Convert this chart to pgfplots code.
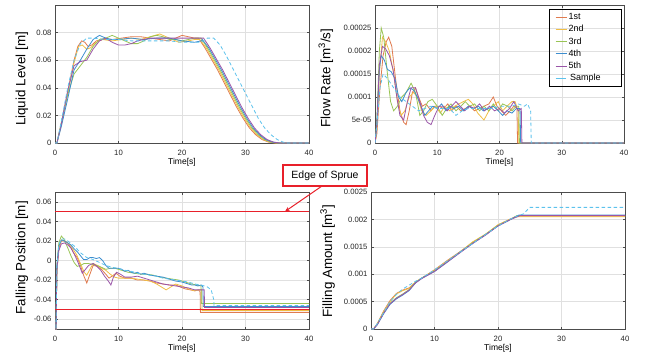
\documentclass[border=0pt]{standalone}
\usepackage{pgfplots}
\pgfplotsset{compat=1.18}
\usepackage{fontspec}
\setmainfont{Liberation Sans}
\usetikzlibrary{arrows.meta}

\definecolor{cA}{RGB}{224,123,79}
\definecolor{cB}{RGB}{240,190,69}
\definecolor{cC}{RGB}{153,196,85}
\definecolor{cD}{RGB}{61,142,207}
\definecolor{cE}{RGB}{154,85,168}
\definecolor{cS}{RGB}{92,194,236}
\definecolor{sprue}{RGB}{232,32,42}

\pgfplotsset{
 panel/.style={
  scale only axis, width=254pt, height=138pt,
  xmin=0, xmax=40, xtick={0,10,20,30,40},
  /pgf/number format/assume math mode=true,
  scaled y ticks=false,
  grid=major, major grid style={black!12, line width=0.5pt},
  axis line style={black!70, line width=0.7pt},
  tick style={black!70, line width=0.5pt},
  major tick length=2.5pt, tick align=inside,
  ticklabel style={font=\fontsize{7.7}{8}\selectfont, text=black!85},
  xticklabel style={yshift=-3.5pt},
  xlabel={Time[s]},
  xlabel style={font=\fontsize{8.5}{9}\selectfont, at={(rel axis cs:0.5,0)}, anchor=center, yshift=-19.5pt},
  ylabel style={font=\fontsize{13.4}{14}\selectfont, anchor=center},
 },
}

\begin{document}
\begin{tikzpicture}
\useasboundingbox (0,0) rectangle (652pt,360pt);

% ---------------- Liquid level ----------------
\begin{axis}[panel, at={(55pt,217pt)}, anchor=south west,
  ymin=0, ymax=0.1, ytick={0,0.02,0.04,0.06,0.08},
  yticklabels={0,0.02,0.04,0.06,0.08},
  ylabel={Liquid Level [m]},
  ylabel style={at={(axis description cs:-0.130,0.464)}}]
\addplot[draw=cA, line width=0.8pt] coordinates {(0,0)(0.3,0)(1,0.014)(2,0.037)(3,0.06)(3.6,0.07)(4.2,0.074)(4.7,0.073)(5.2,0.07)(5.8,0.071)(6.5,0.074)(7.5,0.075)(9,0.075)(10.5,0.076)(12,0.077)(13.5,0.077)(15,0.076)(16.5,0.075)(18,0.074)(19,0.076)(20,0.078)(21,0.077)(22,0.076)(22.6,0.076)(23.6,0.069)(24.6,0.061)(25.6,0.053)(26.6,0.044)(27.6,0.035)(28.6,0.026)(29.6,0.018)(30.6,0.011)(31.6,0.006)(32.6,0.0025)(33.6,0.0007)(34.6,0)(40,0)};
\addplot[draw=cB, line width=0.8pt] coordinates {(0,0)(0.3,0)(1,0.013)(2,0.036)(3,0.058)(3.7,0.07)(4.3,0.071)(5,0.068)(5.6,0.069)(6.5,0.073)(7.5,0.075)(9,0.074)(10.5,0.075)(12,0.076)(13.5,0.075)(15,0.077)(16.5,0.079)(18,0.076)(19.5,0.073)(21,0.074)(22,0.075)(22.8,0.075)(23.8,0.069)(24.8,0.061)(25.8,0.053)(26.8,0.044)(27.8,0.035)(28.8,0.026)(29.8,0.018)(30.8,0.011)(31.8,0.006)(32.8,0.0025)(33.8,0.0007)(34.8,0)(40,0)};
\addplot[draw=cC, line width=0.8pt] coordinates {(0,0)(0.3,0)(1,0.015)(2,0.035)(3,0.05)(4,0.056)(5,0.062)(6,0.07)(7,0.075)(8,0.076)(9,0.078)(10,0.076)(11,0.074)(12,0.072)(13,0.072)(14,0.074)(15,0.077)(16,0.078)(17,0.077)(18,0.075)(19,0.075)(20,0.074)(21,0.075)(22,0.076)(23,0.076)(24,0.069)(25,0.061)(26,0.053)(27,0.044)(28,0.035)(29,0.026)(30,0.018)(31,0.011)(32,0.006)(33,0.0025)(34,0.0007)(35,0)(40,0)};
\addplot[draw=cD, line width=0.8pt] coordinates {(0,0)(0.3,0)(1,0.012)(2,0.032)(3,0.053)(4,0.06)(5,0.068)(6,0.075)(7,0.078)(8,0.076)(9,0.075)(10,0.075)(12,0.076)(14,0.075)(16,0.076)(18,0.076)(20,0.074)(22,0.073)(23,0.074)(23.2,0.075)(24.2,0.069)(25.2,0.061)(26.2,0.053)(27.2,0.044)(28.2,0.035)(29.2,0.026)(30.2,0.018)(31.2,0.011)(32.2,0.006)(33.2,0.0025)(34.2,0.0007)(35.2,0)(40,0)};
\addplot[draw=cE, line width=0.8pt] coordinates {(0,0)(0.3,0)(1,0.014)(2,0.038)(3,0.056)(4,0.059)(5,0.06)(6,0.068)(7,0.074)(8,0.076)(9,0.073)(10,0.071)(11,0.071)(12,0.072)(13,0.074)(14,0.075)(15,0.076)(16,0.076)(18,0.076)(20,0.076)(22,0.076)(23.4,0.076)(24.4,0.069)(25.4,0.061)(26.4,0.053)(27.4,0.044)(28.4,0.035)(29.4,0.026)(30.4,0.018)(31.4,0.011)(32.4,0.006)(33.4,0.0025)(34.4,0.0007)(35.4,0)(40,0)};
\addplot[draw=cS, line width=0.8pt, dash pattern=on 3.5pt off 2.5pt] coordinates {(0,0)(0.3,0)(1,0.016)(2,0.04)(3,0.06)(4,0.072)(5,0.076)(6,0.076)(8,0.075)(10,0.075)(12,0.074)(14,0.074)(16,0.074)(18,0.074)(20,0.073)(22,0.073)(23,0.073)(24,0.076)(25,0.076)(26,0.071)(27,0.063)(28,0.054)(29,0.045)(30,0.036)(31,0.027)(32,0.018)(33,0.011)(34,0.006)(35,0.0025)(36,0.0005)(36.7,0)(40,0)};
\end{axis}

% ---------------- Flow rate ----------------
\begin{axis}[panel, at={(375pt,217pt)}, anchor=south west, width=249pt,
  ymin=0, ymax=0.0003, ytick={0,0.00005,0.0001,0.00015,0.0002,0.00025},
  yticklabels={0,5e-05,0.0001,0.00015,0.0002,0.00025},
  ylabel={Flow Rate [m\textsuperscript{3}/s]},
  ylabel style={at={(axis description cs:-0.197,0.471)}},
  legend cell align=left,
  legend image code/.code={\path (0pt,0pt) -- (11pt,0pt); \draw[#1, line width=0.8pt] (2.5pt,0pt) -- (10.5pt,0pt);},
  legend style={at={(rel axis cs:0.711,0.965)}, anchor=north west,
    draw=none, fill=none,
    font=\fontsize{9}{10}\selectfont,
    nodes={inner ysep=1.6pt, inner xsep=1.5pt, text height=7pt, text depth=2pt},
    inner xsep=3pt, inner ysep=1pt}]
\addplot[draw=cA, line width=0.8pt] coordinates {(0,0)(0.3,0.00002)(0.8,0.00012)(1.3,0.00019)(1.8,0.00022)(2.2,0.00023)(2.7,0.00021)(3.3,0.00014)(4,0.00007)(4.6,0.000045)(5,0.00004)(5.5,0.00007)(6,0.00011)(6.5,0.00012)(7,0.0001)(7.6,0.00008)(8.2,0.000085)(9,0.00007)(9.6,0.00008)(10.3,0.00008)(11,0.000075)(11.7,0.000085)(12.3,0.00007)(13,0.00008)(13.8,0.00007)(14.5,0.000075)(15.2,0.00008)(16,0.00007)(16.8,0.000075)(17.5,0.00008)(18.3,0.000085)(19,0.0001)(19.6,0.00008)(20.3,0.00007)(21,0.00006)(21.7,0.00007)(22.3,0.00008)(22.8,0.000075)(22.9,0)(40,0)};
\addlegendentry{1st}
\addplot[draw=cB, line width=0.8pt] coordinates {(0,0)(0.3,0.00003)(0.7,0.00015)(1.2,0.00023)(1.7,0.00022)(2.3,0.0002)(3,0.00015)(3.6,0.00009)(4.2,0.00006)(4.8,0.00007)(5.5,0.0001)(6.2,0.00011)(6.8,0.0001)(7.5,0.00007)(8.2,0.00006)(9,0.00007)(9.7,0.00008)(10.5,0.000065)(11.2,0.00008)(12,0.00007)(12.8,0.00008)(13.5,0.000085)(14.2,0.00009)(15,0.000095)(15.7,0.000085)(16.5,0.000065)(17.5,0.00005)(18.3,0.00007)(19,0.00008)(19.8,0.00009)(20.5,0.00007)(21.2,0.00008)(22,0.00009)(22.5,0.00009)(23,0.00007)(23.1,0)(40,0)};
\addlegendentry{2nd}
\addplot[draw=cC, line width=0.8pt] coordinates {(0,0)(0.3,0.00005)(0.7,0.0002)(1,0.00025)(1.4,0.00023)(2,0.00015)(2.5,0.00009)(3,0.00007)(3.6,0.00008)(4.3,0.0001)(5,0.00011)(5.8,0.00013)(6.5,0.00011)(7.2,0.00006)(7.8,0.00007)(8.5,0.00009)(9.2,0.000095)(10,0.00008)(10.8,0.00006)(11.5,0.000075)(12.2,0.000085)(13,0.00007)(13.8,0.00008)(14.5,0.00009)(15.2,0.00008)(16,0.000085)(16.8,0.00007)(17.5,0.00008)(18.3,0.00007)(19,0.000085)(19.8,0.00007)(20.5,0.000085)(21.3,0.00008)(22,0.00007)(22.7,0.00008)(23.1,0.00008)(23.2,0)(40,0)};
\addlegendentry{3rd}
\addplot[draw=cD, line width=0.8pt] coordinates {(0,0)(0.3,0.00004)(0.7,0.00016)(1,0.00019)(1.5,0.00018)(2,0.00016)(2.6,0.000155)(3.2,0.00014)(3.8,0.0001)(4.3,0.00009)(5,0.00011)(5.6,0.00012)(6.2,0.000115)(6.8,0.0001)(7.4,0.00008)(8,0.00006)(8.6,0.00007)(9.3,0.00008)(10,0.000075)(10.7,0.000085)(11.4,0.00007)(12,0.00008)(12.7,0.000075)(13.4,0.00008)(14.2,0.00007)(15,0.00008)(15.8,0.000075)(16.6,0.00008)(17.4,0.00007)(18.2,0.000075)(19,0.00008)(19.8,0.00007)(20.5,0.00006)(21.2,0.00007)(22,0.000065)(22.7,0.000075)(23.3,0.000075)(23.4,0)(40,0)};
\addlegendentry{4th}
\addplot[draw=cE, line width=0.8pt] coordinates {(0,0)(0.3,0.00004)(0.7,0.00017)(1.2,0.00021)(1.7,0.000205)(2.3,0.00019)(2.9,0.00016)(3.5,0.0001)(4,0.00006)(4.6,0.00005)(5.2,0.00009)(5.8,0.00012)(6.5,0.00012)(7.2,0.00009)(7.8,0.00006)(8.4,0.000045)(9,0.00004)(9.6,0.00006)(10.3,0.00008)(11,0.00008)(11.6,0.00007)(12.3,0.00008)(13,0.00009)(13.7,0.00008)(14.4,0.00007)(15.2,0.00008)(16,0.000075)(16.8,0.000085)(17.6,0.00007)(18.4,0.00008)(19.2,0.00007)(20,0.000075)(20.8,0.000065)(21.6,0.000075)(22.3,0.00009)(23,0.00007)(23.5,0.000075)(23.6,0)(40,0)};
\addlegendentry{5th}
\addplot[draw=cS, line width=0.8pt, dash pattern=on 3.5pt off 2.5pt] coordinates {(0,0)(0.3,0.00004)(0.8,0.00012)(1.3,0.00015)(2,0.00014)(3,0.00012)(4,0.0001)(5,0.00009)(6,0.00008)(7,0.00007)(8,0.000075)(9,0.00008)(10,0.000075)(11,0.000075)(12,0.000075)(13,0.00006)(14,0.00007)(15,0.000075)(16,0.000075)(17,0.000075)(18,0.000075)(19,0.000075)(20,0.00008)(21,0.00008)(22,0.00008)(23,0.000085)(24,0.00008)(24.5,0.000085)(25,0.00007)(25.1,0)(40,0)};
\addlegendentry{\,Sample}
\end{axis}

% ---------------- Falling position ----------------
\begin{axis}[panel, at={(55pt,31pt)}, anchor=south west, height=137pt,
  ymin=-0.07, ymax=0.07, ytick={-0.06,-0.04,-0.02,0,0.02,0.04,0.06},
  yticklabels={-0.06,-0.04,-0.02,0,0.02,0.04,0.06},
  ylabel={Falling Position [m]},
  ylabel style={at={(axis description cs:-0.130,0.52)}}]
\addplot[draw=cA, line width=0.8pt] coordinates {(0.15,-0.075)(0.3,-0.01)(0.6,0.012)(1,0.02)(1.5,0.02)(2,0.018)(2.5,0.013)(3,0.007)(3.5,0.003)(4,-0.005)(4.5,-0.015)(5,-0.023)(5.5,-0.014)(6,-0.005)(6.7,-0.006)(7.3,-0.009)(8,-0.014)(8.5,-0.018)(9,-0.016)(9.6,-0.013)(10.2,-0.016)(11,-0.018)(12,-0.018)(13,-0.02)(14,-0.02)(15,-0.021)(16,-0.023)(17,-0.024)(18,-0.025)(19,-0.025)(19.7,-0.027)(20.5,-0.029)(21.3,-0.03)(22,-0.031)(22.6,-0.03)(22.85,-0.032)(22.9,-0.053)(40,-0.053)};
\addplot[draw=cB, line width=0.8pt] coordinates {(0.15,-0.075)(0.3,-0.01)(0.6,0.014)(1,0.021)(1.6,0.02)(2.2,0.017)(2.8,0.012)(3.4,0.006)(4,-0.003)(4.6,-0.012)(5,-0.015)(5.5,-0.009)(6,-0.003)(6.7,-0.005)(7.4,-0.008)(8,-0.01)(8.7,-0.014)(9.4,-0.017)(10,-0.018)(11,-0.018)(12,-0.018)(13,-0.019)(14,-0.02)(15,-0.021)(16,-0.024)(17,-0.028)(17.5,-0.03)(18,-0.028)(19,-0.024)(20,-0.026)(21,-0.029)(22,-0.031)(22.7,-0.03)(23.1,-0.03)(23.15,-0.051)(40,-0.051)};
\addplot[draw=cC, line width=0.8pt] coordinates {(0.15,-0.075)(0.3,-0.005)(0.6,0.018)(1,0.025)(1.4,0.022)(2,0.013)(2.5,0.005)(3,-0.002)(3.5,-0.006)(4,-0.005)(4.6,-0.003)(5.2,-0.003)(6,-0.004)(7,-0.006)(8,-0.009)(8.7,-0.008)(9.5,-0.008)(10.5,-0.01)(11.5,-0.012)(12.5,-0.013)(13.5,-0.014)(14.5,-0.014)(15.5,-0.015)(16.5,-0.017)(17.5,-0.018)(18.5,-0.019)(19.5,-0.02)(20.5,-0.022)(21.5,-0.024)(22.3,-0.025)(23,-0.026)(23.05,-0.044)(40,-0.044)};
\addplot[draw=cD, line width=0.8pt] coordinates {(0.15,-0.075)(0.3,-0.005)(0.6,0.015)(1,0.021)(1.5,0.02)(2,0.018)(2.5,0.016)(3,0.012)(3.5,0.009)(4,0.005)(4.5,0.001)(5,0.001)(5.5,0.003)(6,0.003)(6.5,0.002)(7,0.003)(7.5,0)(8,-0.005)(8.5,-0.008)(9,-0.008)(9.5,-0.008)(10,-0.008)(10.5,-0.009)(11,-0.011)(11.5,-0.01)(12,-0.012)(12.5,-0.013)(13,-0.012)(13.5,-0.014)(14,-0.013)(15,-0.015)(16,-0.016)(17,-0.017)(18,-0.019)(19,-0.021)(20,-0.022)(21,-0.024)(21.5,-0.025)(22,-0.025)(22.5,-0.026)(23,-0.025)(23.3,-0.027)(23.35,-0.047)(40,-0.047)};
\addplot[draw=cE, line width=0.8pt] coordinates {(0.15,-0.075)(0.3,-0.01)(0.6,0.01)(1,0.017)(1.5,0.018)(2,0.016)(2.5,0.013)(3,0.007)(3.5,0)(4,-0.008)(4.3,-0.013)(4.8,-0.009)(5.3,-0.005)(6,-0.003)(6.6,-0.006)(7.2,-0.01)(7.8,-0.016)(8.4,-0.021)(8.8,-0.025)(9.2,-0.017)(9.7,-0.012)(10.3,-0.014)(11,-0.017)(12,-0.017)(13,-0.016)(14,-0.018)(15,-0.02)(16,-0.022)(17,-0.024)(18,-0.025)(19,-0.026)(20,-0.027)(21,-0.028)(22,-0.03)(23,-0.03)(23.5,-0.03)(23.55,-0.048)(40,-0.048)};
\addplot[draw=cS, line width=0.8pt, dash pattern=on 3.5pt off 2.5pt] coordinates {(0.15,-0.075)(0.3,-0.005)(0.6,0.016)(1,0.022)(1.5,0.022)(2,0.02)(3,0.015)(4,0.008)(5,0.003)(6,0.001)(7,-0.002)(8,-0.005)(9,-0.007)(10,-0.008)(11,-0.01)(12,-0.011)(13,-0.013)(14,-0.014)(15,-0.015)(16,-0.016)(17,-0.018)(18,-0.019)(19,-0.02)(20,-0.021)(21,-0.022)(22,-0.024)(23,-0.025)(24,-0.027)(24.6,-0.03)(25,-0.04)(25.05,-0.046)(40,-0.046)};
\addplot[draw=sprue, line width=1.3pt] coordinates {(0,0.05)(40,0.05)};
\addplot[draw=sprue, line width=1.3pt] coordinates {(0,-0.05)(40,-0.05)};
\coordinate (tip) at (axis cs:36.2,0.05);
\coordinate (ua) at (axis cs:0,0.05);
\coordinate (ub) at (axis cs:40,0.05);
\coordinate (la) at (axis cs:0,-0.05);
\coordinate (lb) at (axis cs:40,-0.05);
\end{axis}

% ---------------- Filling amount ----------------
\begin{axis}[panel, at={(371pt,31pt)}, anchor=south west, height=137pt,
  ymin=0, ymax=0.0025, ytick={0,0.0005,0.001,0.0015,0.002,0.0025},
  yticklabels={0,0.0005,0.001,0.0015,0.002,0.0025},
  ylabel={Filling Amount [m\textsuperscript{3}]},
  ylabel style={at={(axis description cs:-0.171,0.496)}}]
\addplot[draw=cA, line width=0.8pt] coordinates {(0,0)(0.4,0)(1,0.0001)(2,0.00033)(3,0.00052)(4,0.00065)(5,0.00071)(6,0.00075)(7,0.00085)(8,0.00093)(10,0.00108)(12,0.00125)(14,0.00141)(16,0.00158)(18,0.00172)(20,0.0019)(22,0.00201)(22.9,0.00206)(40,0.00206)};
\addplot[draw=cB, line width=0.8pt] coordinates {(0,0)(0.4,0)(1,0.0001)(2,0.00032)(3,0.0005)(4,0.00064)(5,0.0007)(6,0.00074)(7,0.00086)(8,0.00093)(10,0.00107)(12,0.00124)(14,0.0014)(16,0.00159)(18,0.00173)(20,0.0019)(22,0.00201)(23.1,0.00205)(40,0.00205)};
\addplot[draw=cC, line width=0.8pt] coordinates {(0,0)(0.4,0)(1,0.00009)(2,0.0003)(3,0.00047)(4,0.00057)(5,0.00064)(6,0.00072)(7,0.00085)(8,0.00093)(10,0.00106)(12,0.00123)(14,0.0014)(16,0.00157)(18,0.00172)(20,0.00189)(22,0.002)(23,0.00207)(40,0.00207)};
\addplot[draw=cD, line width=0.8pt] coordinates {(0,0)(0.4,0)(1,0.00008)(2,0.00028)(3,0.00045)(4,0.00055)(5,0.00062)(6,0.0007)(7,0.00084)(8,0.00093)(10,0.00105)(12,0.00122)(14,0.0014)(16,0.00156)(18,0.00172)(20,0.00188)(22,0.002)(23.3,0.00208)(40,0.00208)};
\addplot[draw=cE, line width=0.8pt] coordinates {(0,0)(0.4,0)(1,0.00008)(2,0.00029)(3,0.00046)(4,0.00056)(5,0.00063)(6,0.00071)(7,0.00084)(8,0.00092)(10,0.00105)(12,0.00122)(14,0.00139)(16,0.00156)(18,0.00171)(20,0.00188)(22,0.002)(23.5,0.00207)(40,0.00207)};
\addplot[draw=cS, line width=0.8pt, dash pattern=on 3.5pt off 2.5pt] coordinates {(0,0)(0.4,0)(1,0.0001)(2,0.0003)(3,0.0005)(4,0.00063)(5,0.00073)(6,0.0008)(7,0.00087)(8,0.00093)(10,0.00108)(12,0.00124)(14,0.0014)(16,0.00156)(18,0.00172)(20,0.00188)(22,0.00201)(23,0.00206)(24,0.0021)(25,0.00222)(40,0.00222)};
\end{axis}

% sprue edge lines, redrawn on top
\draw[draw=sprue, line width=1.3pt] (ua) -- (ub);
\draw[draw=sprue, line width=1.3pt] (la) -- (lb);
% legend frame
\draw[black, line width=0.9pt] (549.5pt,274pt) rectangle (621pt,350.5pt);
% ---------------- annotation ----------------
\draw[draw=sprue, line width=1pt, -{Stealth[length=5pt,width=4pt]}] (322pt,174pt) -- (tip);
\node[draw=sprue, line width=1.3pt, fill=white, font=\fontsize{10.5}{11}\selectfont,
  minimum width=84pt, minimum height=21pt, inner sep=0pt] at (325pt,184.5pt) {Edge of Sprue};
\end{tikzpicture}
\end{document}
